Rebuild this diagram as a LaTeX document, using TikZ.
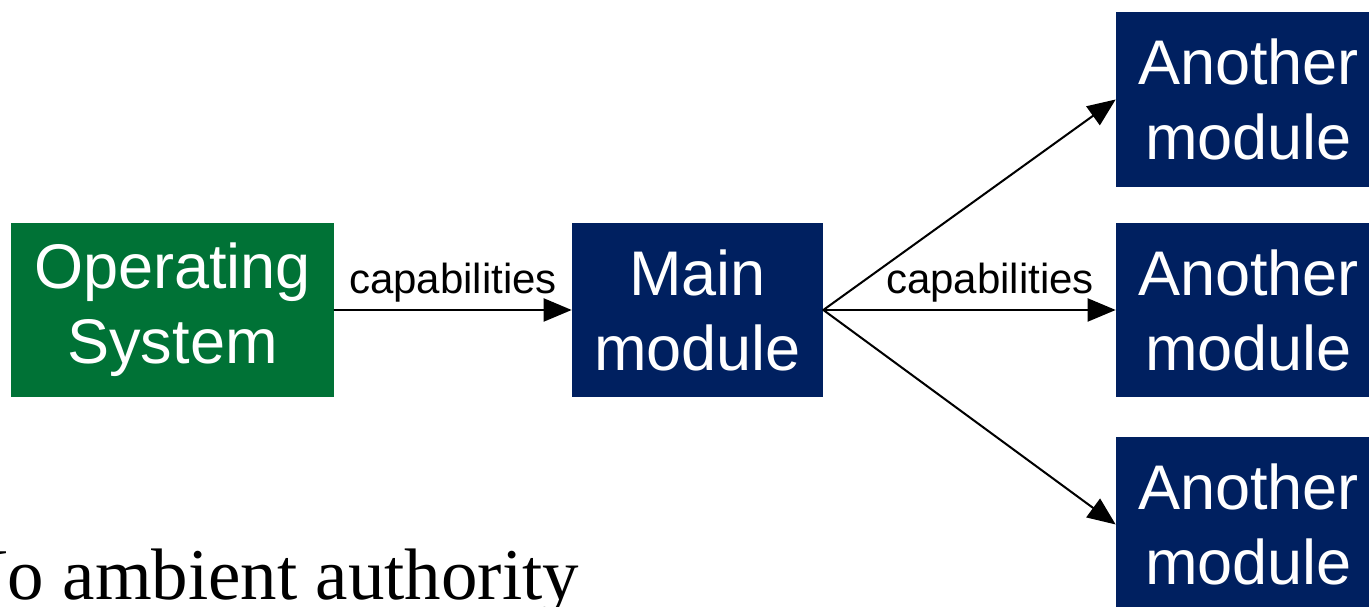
\documentclass[tikz,border=0pt]{standalone}
\usepackage{fontspec}
\setmainfont{Liberation Serif}
\setsansfont{Liberation Sans}
\usepackage{tikz}
\usetikzlibrary{arrows.meta}
\definecolor{osgreen}{RGB}{0,114,54}
\definecolor{modnavy}{RGB}{0,32,96}

\begin{document}
\begin{tikzpicture}[line cap=round,line join=round,x=0.02cm,y=0.02cm,
    box/.style={rectangle,inner sep=0pt,minimum height=3.5cm,align=center,text=white,
        font=\sffamily\fontsize{35.9}{42.7}\selectfont},
    caplabel/.style={font=\sffamily\fontsize{23.9}{28}\selectfont,inner sep=4pt},
    arr/.style={line width=1.15pt,-{Triangle[length=0.56cm,width=0.46cm]}}]
                \useasboundingbox (0,0) rectangle (1369,607);
                \clip (0,0) rectangle (1369,607);
                % boxes
                \node [box,fill=osgreen,minimum width=6.46cm] (os) at (172.5,297) {Operating\\System};
                \node [box,fill=modnavy,minimum width=5.02cm] (main) at (697.5,297) {Main\\module};
                \node [box,fill=modnavy,minimum width=5.3cm] (mod1) at (1248.5,507.5) {Another\\module};
                \node [box,fill=modnavy,minimum width=5.3cm] (mod2) at (1248.5,297) {Another\\module};
                \node [box,fill=modnavy,minimum width=5.3cm] (mod3) at (1248.5,82.5) {Another\\module};
                % arrows
                \draw [arr] (os) -- node [caplabel,above] {capabilities} (main);
                \draw [arr] (main.east) -- (mod1.west);
                \draw [arr] (main.east) -- node [caplabel,above,pos=0.57] {capabilities} (mod2.west);
                \draw [arr] (main.east) -- (mod3.west);
                % caption
                \node [anchor=base west,inner sep=0pt,font=\fontsize{41.5}{48}\selectfont] (note) at (-45,7) {No ambient authority};
            \end{tikzpicture}
\end{document}
